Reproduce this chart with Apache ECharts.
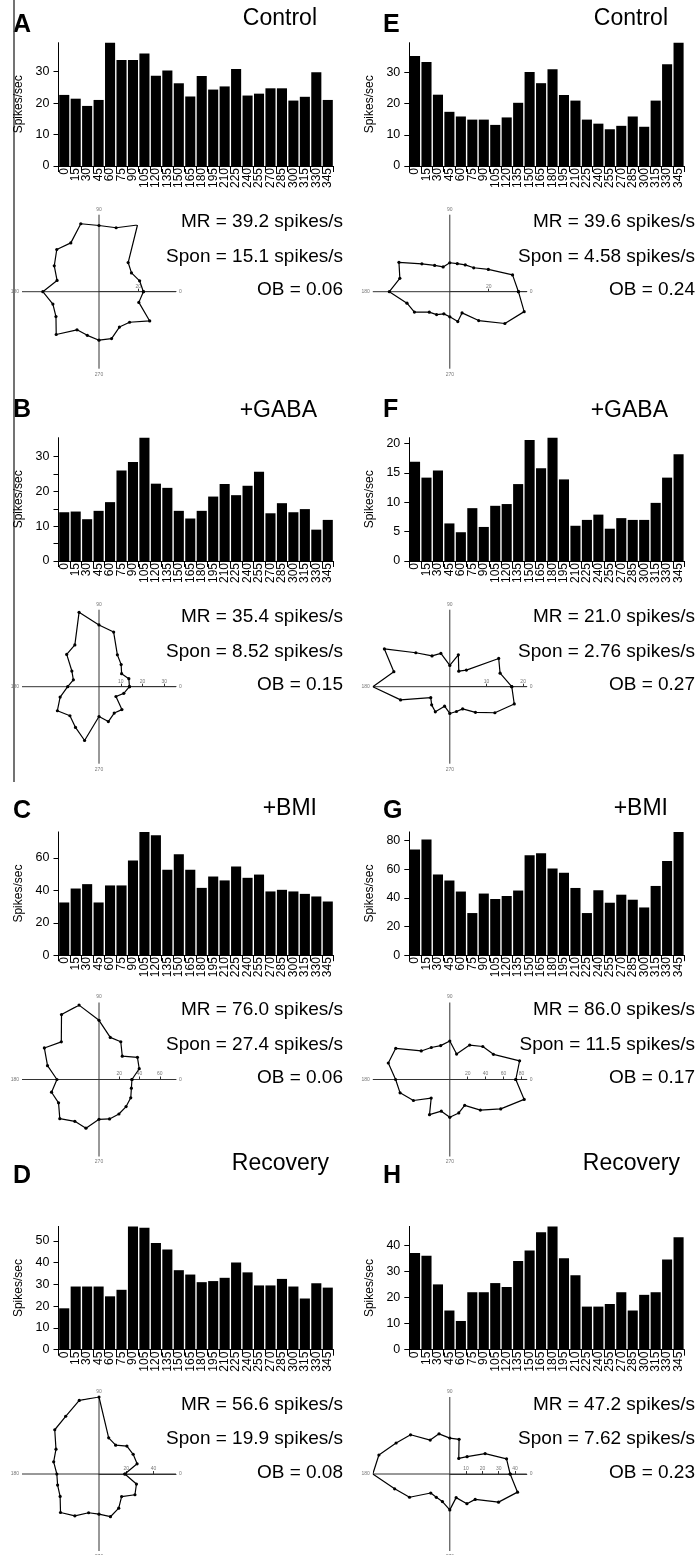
<!DOCTYPE html>
<html><head><meta charset="utf-8">
<script src="https://cdn.jsdelivr.net/npm/echarts@6/dist/echarts.min.js"></script>
<style>html,body{margin:0;padding:0;background:#fff}#c{width:699px;height:1555px}</style>
</head><body><div id="c"></div>
<script>
// ---------- DATA ----------
const angles = ['0','15','30','45','60','75','90','105','120','135','150','165','180','195','210','225','240','255','270','285','300','315','330','345'];
const ctrlA = [22.6,21.4,19.1,21.0,39.2,33.7,33.7,35.8,28.7,30.4,26.3,22.1,28.6,24.3,25.3,30.8,22.4,23.0,24.7,24.7,20.8,22.0,29.8,21.0];
const gabaB = [14.0,14.2,12.0,14.4,16.9,26.0,28.4,35.4,22.2,21.0,14.4,12.2,14.4,18.5,22.1,18.9,21.6,25.6,13.7,16.6,14.0,14.9,9.0,11.8];
const bmiC  = [32.5,41.1,43.8,32.5,43.0,43.0,58.4,76.0,74.0,52.6,62.3,52.6,41.5,48.5,46.1,54.7,47.7,49.7,39.3,40.3,39.3,37.8,36.2,33.1];
const recD  = [19.0,29.0,29.0,29.0,24.5,27.5,56.6,56.0,49.0,46.0,36.5,34.5,31.0,31.5,33.0,40.0,35.5,29.5,29.5,32.5,29.0,23.5,30.5,28.5];
const ctrlE = [35.3,33.4,22.9,17.4,15.9,14.9,14.9,13.2,15.6,20.3,30.2,26.6,31.1,22.8,21.0,14.9,13.6,11.8,12.9,15.9,12.6,21.0,32.7,39.6];
const gabaF = [16.9,14.2,15.4,6.4,4.9,9.0,5.8,9.4,9.7,13.1,20.6,15.8,21.0,13.9,6.0,7.0,7.9,5.5,7.3,7.0,7.0,9.9,14.2,18.2];
const bmiG  = [73.7,80.7,56.3,52.1,44.4,29.4,43.0,39.2,41.3,45.1,69.7,71.1,60.5,57.5,46.9,29.4,45.3,36.6,42.2,38.7,33.3,48.3,65.7,86.0];
const recH  = [37.0,36.0,25.0,15.0,11.0,22.0,22.0,25.5,24.0,34.0,38.0,45.0,47.2,35.0,28.5,16.5,16.5,17.5,22.0,15.0,21.0,22.0,34.5,43.0];

const panelLetters = ['A','B','C','D','E','F','G','H'];
const conditions = ['Control','+GABA','+BMI','Recovery','Control','+GABA','+BMI','Recovery'];
const mrValues   = [39.2,35.4,76.0,56.6,39.6,21.0,86.0,47.2];
const sponValues = [15.1,8.52,27.4,19.9,4.58,2.76,11.5,7.62];
const obValues   = [0.06,0.15,0.06,0.08,0.24,0.27,0.17,0.23];
const yLabelTicks = [[0,10,20,30],[0,10,20,30],[0,20,40,60],[0,10,20,30,40,50],[0,10,20,30],[0,5,10,15,20],[0,20,40,60,80],[0,10,20,30,40]];
const yMarkTicks  = [[0,10,20,30],[0,5,10,15,20,25,30],[0,20,40,60],[0,10,20,30,40,50],[0,10,20,30],[0,5,10,15,20],[0,20,40,60,80],[0,10,20,30,40]];
const polarRadiusTicks = [[20],[10,20,30],[20,40,60],[20,40],[20],[10,20],[20,40,60,80],[10,20,30,40]];
const yAxisName = 'Spikes/sec';

const panelData = [ctrlA, gabaB, bmiC, recD, ctrlE, gabaF, bmiG, recH];

// ---------- LAYOUT ----------
const FONT = '"Liberation Sans", Arial, Helvetica, sans-serif';
const colX = [0, 350.8];
const zeroY = [166, 561, 955.2, 1349.7];
const polarY = [291.7, 686.7, 1079.5, 1474];
const letterY = [25, 410.5, 810.8, 1176];
const titleY = [19, 410.5, 808.3, 1164];
const letterX = [13, 383];
const titleR = [317, 668];
const textR = [343, 695];
const barH = 123.3;

const chart = echarts.init(document.getElementById('c'), null, {renderer: 'canvas'});
const grid = [], xAxis = [], yAxis = [], polar = [], angleAxis = [], radiusAxis = [], series = [], graphic = [];

panelData.forEach((vals, i) => {
  const col = i < 4 ? 0 : 1;
  const row = i % 4;
  const ox = colX[col];
  grid.push({left: 58.5 + ox, top: zeroY[row] - barH, width: 275, height: barH});
  xAxis.push({
    type: 'category', gridIndex: i, data: angles,
    axisLine: {lineStyle: {color: '#000', width: 1}},
    axisTick: {show: true, length: 6, lineStyle: {color: '#000'}},
    axisLabel: {rotate: 90, interval: 0, fontSize: 12, color: '#000', margin: 2, fontFamily: FONT, hideOverlap: false}
  });
  yAxis.push({
    type: 'value', gridIndex: i, min: 0, max: mrValues[i],
    axisLine: {show: true, lineStyle: {color: '#000', width: 1}},
    axisTick: {show: true, length: 5, customValues: yMarkTicks[i], lineStyle: {color: '#000'}},
    axisLabel: {customValues: yLabelTicks[i], fontSize: 12.5, color: '#000', margin: 9, fontFamily: FONT},
    splitLine: {show: false},
    name: yAxisName, nameLocation: 'middle', nameGap: 34,
    nameTextStyle: {fontSize: 12, color: '#000', fontFamily: FONT}
  });
  series.push({
    type: 'bar', xAxisIndex: i, yAxisIndex: i, data: vals,
    barCategoryGap: '12%', itemStyle: {color: '#000'}, silent: true
  });

  polar.push({center: [99 + ox, polarY[row]], radius: 77});
  angleAxis.push({
    polarIndex: i, type: 'value', min: 0, max: 360, interval: 90,
    startAngle: 0, clockwise: false,
    axisLine: {show: false}, axisTick: {show: false},
    splitLine: {show: true, lineStyle: {color: '#333', width: 1}},
    axisLabel: {show: true, fontSize: 5, color: '#777', margin: 3, fontFamily: FONT,
      formatter: v => (v === 360 ? '' : String(v))}
  });
  radiusAxis.push({
    polarIndex: i, type: 'value', min: 0, max: mrValues[i],
    axisLine: {show: true, lineStyle: {color: '#333', width: 1}},
    axisTick: {show: true, length: 3, customValues: polarRadiusTicks[i], lineStyle: {color: '#333'}},
    axisLabel: {show: true, customValues: polarRadiusTicks[i], fontSize: 5, color: '#777', margin: 3, fontFamily: FONT},
    splitLine: {show: false}
  });
  const pts = vals.map((v, k) => [v, Number(angles[k])]);
  pts.push([vals[0], 360]);
  series.push({
    type: 'line', coordinateSystem: 'polar', polarIndex: i, data: pts,
    symbol: 'circle', symbolSize: 3.2, showSymbol: true,
    lineStyle: {color: '#000', width: 1.2}, itemStyle: {color: '#000'}, silent: true
  });

  const mk = (text, x, y, font, align) => ({
    type: 'text', x: x, y: y, silent: true,
    style: {text: text, font: font, fill: '#000', align: align, textAlign: align, verticalAlign: 'middle', textVerticalAlign: 'middle'}
  });
  graphic.push(mk(panelLetters[i], letterX[col], letterY[row], 'bold 25px ' + FONT, 'left'));
  graphic.push(mk(conditions[i], titleR[col] + (row === 3 ? 12 : 0), titleY[row], '23px ' + FONT, 'right'));
  graphic.push(mk('MR = ' + mrValues[i].toFixed(1) + ' spikes/s', textR[col], polarY[row] - 69.5, '19px ' + FONT, 'right'));
  graphic.push(mk('Spon = ' + sponValues[i].toPrecision(3) + ' spikes/s', textR[col], polarY[row] - 35, '19px ' + FONT, 'right'));
  graphic.push(mk('OB = ' + obValues[i].toFixed(2), textR[col], polarY[row] - 1.5, '19px ' + FONT, 'right'));
});

graphic.push({type: 'line', silent: true, shape: {x1: 14, y1: 0, x2: 14, y2: 782}, style: {stroke: '#444', lineWidth: 1.5}});

chart.setOption({
  animation: false,
  backgroundColor: '#fff',
  textStyle: {fontFamily: FONT},
  grid, xAxis, yAxis, polar, angleAxis, radiusAxis, series, graphic
});
</script></body></html>
